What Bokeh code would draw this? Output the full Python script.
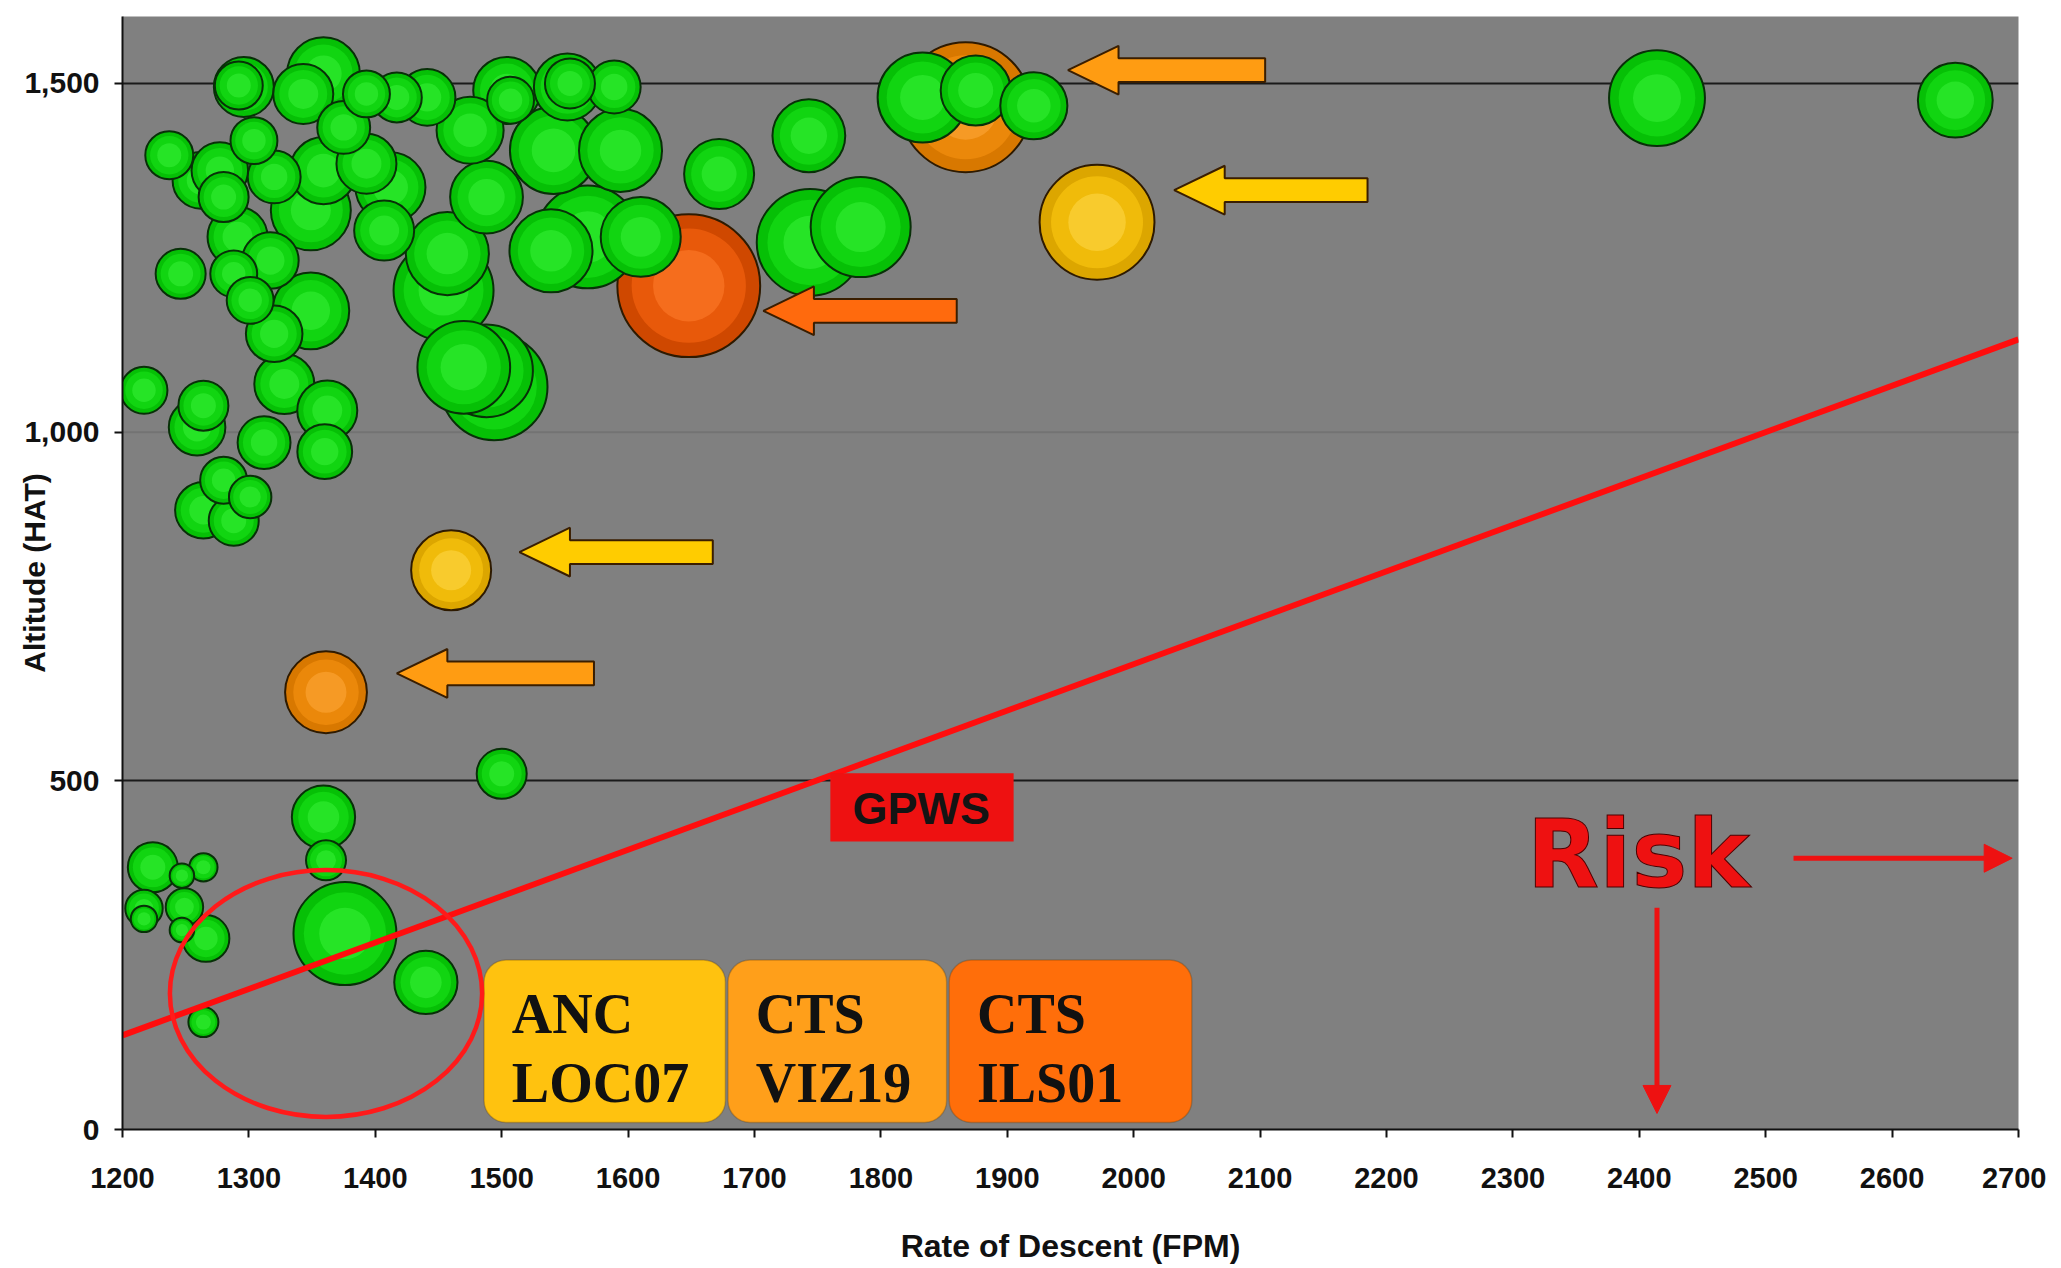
import numpy as np
from bokeh.plotting import figure
from bokeh.models import (Range1d, FixedTicker, NumeralTickFormatter, BoxAnnotation,
                          Arrow, NormalHead, ColumnDataSource, Span)
from bokeh.core.properties import value
from bokeh.embed import file_html
from bokeh.resources import INLINE

# ---------------- data ----------------
x_ticks = list(range(1200, 2701, 100))
y_ticks = [0, 500, 1000, 1500]

green_rod = [1296, 1292, 1237, 1246, 1217, 1264, 1259, 1359, 1343, 1393, 1417, 1441,
             1504, 1507, 1304, 1262, 1277, 1280, 1320, 1359, 1375, 1393, 1412, 1475,
             1488, 1457, 1454, 1407, 1349, 1291, 1317, 1288, 1301, 1320, 1349, 1328,
             1488, 1470, 1494, 1362, 1312, 1360, 1280, 1264, 1301, 1288,
             1554, 1589, 1552, 1594, 1541, 1568, 1610, 1539, 1672, 1743, 1744, 1784,
             1833, 1875, 1921, 2414, 2650, 1500,
             1359, 1361, 1224, 1247, 1264, 1217, 1217, 1249, 1247, 1266, 1376, 1440, 1264]
green_alt = [1495, 1497, 1397, 1227, 1060, 1038, 1007, 1514, 1485, 1485, 1480, 1480,
             1490, 1476, 1418, 1361, 1375, 1337, 1366, 1375, 1437, 1385, 1351, 1433,
             1337, 1256, 1203, 1289, 1318, 1280, 1246, 1227, 1189, 1141, 1174, 1069,
             1088, 1093, 1065, 1031, 985, 972, 931, 888, 907, 873,
             1500, 1495, 1495, 1404, 1404, 1280, 1280, 1260, 1370, 1425, 1272, 1294,
             1480, 1490, 1468, 1479, 1476, 510,
             448, 386, 376, 364, 376, 317, 302, 319, 286, 274, 281, 211, 154]
green_cnt = [36, 23, 23, 25, 22, 25, 32, 53, 36, 22, 25, 32,
             45, 22, 22, 32, 32, 25, 28, 45, 28, 36, 49, 45,
             53, 69, 100, 36, 64, 36, 32, 22, 22, 32, 59, 36,
             86, 86, 114, 36, 28, 30, 22, 32, 18, 25,
             25, 28, 45, 69, 76, 106, 64, 69, 49, 53, 114, 100,
             81, 49, 45, 92, 56, 25,
             40, 16, 25, 6, 8, 14, 7, 14, 6, 22, 106, 40, 9]

hl_rod = [1867, 1648, 1971, 1460, 1361]
hl_alt = [1466, 1210, 1301, 802, 627]
hl_cnt = [169, 204, 132, 64, 67]
hl_kind = ["orange", "red", "yellow", "yellow", "orange"]

gpws_rod = [1200, 2700]
gpws_alt = [135, 1133]

arrow_tip = [1948, 2032, 1707, 1514, 1417]
arrow_tail = [2104, 2185, 1860, 1667, 1573]
arrow_alt = [1519, 1347, 1174, 828, 654]
arrow_kind = ["orange", "yellow", "red", "yellow", "orange"]

box_labels = [["ANC", "LOC07"], ["CTS", "VIZ19"], ["CTS", "ILS01"]]
box_left = [1486, 1679, 1854]
box_right = [1677, 1852, 2046]
box_kind = ["yellow", "orange", "red"]

# ---------------- styles ----------------
shade = {
    "green": ("#06c006", "#14da14", "#38f038"),
    "yellow": ("#dca600", "#f5c10c", "#ffd94a"),
    "orange": ("#d87800", "#f08c0c", "#ffa93c"),
    "red": ("#cf4800", "#ee5e0c", "#ff7d2e"),
}
arrow_fill = {"orange": "#ff9c12", "yellow": "#ffcc00", "red": "#ff6a0d"}
box_fill = {"yellow": "#ffc20f", "orange": "#ff9f1a", "red": "#ff6e0a"}
SANS = "Liberation Sans"

p = figure(frame_width=1896, frame_height=1113,
           x_range=Range1d(1200, 2700), y_range=Range1d(0, 1596),
           output_backend="svg", toolbar_location=None,
           min_border_left=122, min_border_right=28, min_border_top=16, min_border_bottom=110,
           background_fill_color="#808080", border_fill_color="white")
p.outline_line_color = None

# axes
for ax in (p.xaxis, p.yaxis):
    ax.axis_line_color = "#111111"
    ax.axis_line_width = 2
    ax.major_tick_line_color = "#111111"
    ax.major_tick_line_width = 2
    ax.major_tick_in = 0
    ax.major_tick_out = 8
    ax.minor_tick_line_color = None
    ax.major_label_text_font = SANS
    ax.major_label_text_font_style = "bold"
    ax.major_label_text_color = "#111111"
    ax.axis_label_text_font = SANS
    ax.axis_label_text_font_style = "bold"
    ax.axis_label_text_color = "#111111"

p.xaxis.ticker = FixedTicker(ticks=x_ticks)
p.xaxis.major_label_text_font_size = "29px"
p.xaxis.major_label_standoff = 30
p.xaxis.axis_label = "Rate of Descent (FPM)"
p.xaxis.axis_label_text_font_size = "32px"
p.xaxis.axis_label_standoff = 37

p.yaxis.ticker = FixedTicker(ticks=y_ticks)
p.yaxis.formatter = NumeralTickFormatter(format="0,0")
p.yaxis.major_label_text_font_size = "30px"
p.yaxis.major_label_standoff = 15
p.yaxis.axis_label = "Altitude (HAT)"
p.yaxis.axis_label_text_font_size = "30px"
p.yaxis.axis_label_standoff = -30

p.xgrid.visible = False
p.ygrid.ticker = FixedTicker(ticks=[500, 1500])
p.ygrid.grid_line_color = "#1a1a1a"
p.ygrid.grid_line_width = 2
p.add_layout(Span(location=1000, dimension="width", line_color="#737373",
                  line_width=2, level="underlay"))

# ---------------- category boxes (under the glyphs) ----------------
for lft, rgt, k in zip(box_left, box_right, box_kind):
    p.add_layout(BoxAnnotation(left=lft, right=rgt, bottom=10, top=243,
                               fill_color=box_fill[k], fill_alpha=1.0,
                               line_color="#5a3a10", line_width=1.5,
                               border_radius=22, level="underlay"))

# ---------------- bubbles (layered for a shaded look) ----------------
def layered(xs, ys, cnts, kinds):
    rows = dict(x=[], y=[], s=[], f=[], fa=[], la=[])
    for x, y, c, k in zip(xs, ys, cnts, kinds):
        d = 10.0 * np.sqrt(c)
        edge, mid, light = shade[k]
        for scale, col, fa, la in ((1.0, edge, 1.0, 1.0), (0.8, mid, 0.8, 0.0),
                                   (0.5, light, 0.55, 0.0)):
            rows["x"].append(x)
            rows["y"].append(y)
            rows["s"].append(d * scale)
            rows["f"].append(col)
            rows["fa"].append(fa)
            rows["la"].append(la)
    return ColumnDataSource(rows)

hl_order = sorted(range(len(hl_rod)), key=lambda i: -hl_cnt[i])
src_hl = layered([hl_rod[i] for i in hl_order], [hl_alt[i] for i in hl_order],
                 [hl_cnt[i] for i in hl_order], [hl_kind[i] for i in hl_order])
p.scatter("x", "y", size="s", source=src_hl, fill_color="f", fill_alpha="fa",
          line_color="#2e1a00", line_alpha="la", line_width=2)

g_order = sorted(range(len(green_rod)), key=lambda i: -green_cnt[i])
src_g = layered([green_rod[i] for i in g_order], [green_alt[i] for i in g_order],
                [green_cnt[i] for i in g_order], ["green"] * len(g_order))
p.scatter("x", "y", size="s", source=src_g, fill_color="f", fill_alpha="fa",
          line_color="#083008", line_alpha="la", line_width=2)

# ---------------- GPWS line, circled region ----------------
p.line(gpws_rod, gpws_alt, line_color="#ff0d0d", line_width=6)
p.ellipse(x=[1361], y=[195], width=[247], height=[354], fill_color=None,
          line_color="#ff1a1a", line_width=4.5)

p.quad(left=[1760], right=[1905], bottom=[413], top=[511], fill_color="#ee1111",
       line_color=None)
p.text(x=[1832], y=[460], text=["GPWS"], text_font=value(SANS), text_font_style="bold",
       text_font_size="45px", text_color="#141414", text_align="center",
       text_baseline="middle")

# ---------------- block arrows ----------------
HEAD_L, SHAFT_H, HEAD_H = 40, 17, 35
axs, ays, acols = [], [], []
for tip, tail, y, k in zip(arrow_tip, arrow_tail, arrow_alt, arrow_kind):
    axs.append([tip, tip + HEAD_L, tip + HEAD_L, tail, tail, tip + HEAD_L, tip + HEAD_L])
    ays.append([y, y + HEAD_H, y + SHAFT_H, y + SHAFT_H, y - SHAFT_H, y - SHAFT_H, y - HEAD_H])
    acols.append(arrow_fill[k])
p.patches(axs, ays, fill_color=acols, line_color="#3a1e00", line_width=2)

# ---------------- category box texts ----------------
text_x = [box_left[i] + 22 for i in range(3) for _ in range(2)]
text_y = [166, 67] * 3
text_s = [t for lines in box_labels for t in lines]
p.text(x=text_x, y=text_y, text=text_s, text_font=value("Liberation Serif"),
       text_font_style="bold", text_font_size="56px", text_color="#111111",
       text_baseline="middle")

# ---------------- Risk ----------------
p.text(x=[2311], y=[394], text=["Risk"], text_font=value("DejaVu Sans"),
       text_font_style="bold", text_font_size="94px", text_color="#ee1111",
       text_outline_color="#4a0000", text_baseline="middle")
p.add_layout(Arrow(end=NormalHead(size=28, fill_color="#ee1111", line_color="#ee1111"),
                   x_start=2522, y_start=389, x_end=2695, y_end=389,
                   line_color="#ee1111", line_width=5))
p.add_layout(Arrow(end=NormalHead(size=28, fill_color="#ee1111", line_color="#ee1111"),
                   x_start=2414, y_start=318, x_end=2414, y_end=23,
                   line_color="#ee1111", line_width=5))

open("out.html", "w").write(file_html(p, INLINE))
